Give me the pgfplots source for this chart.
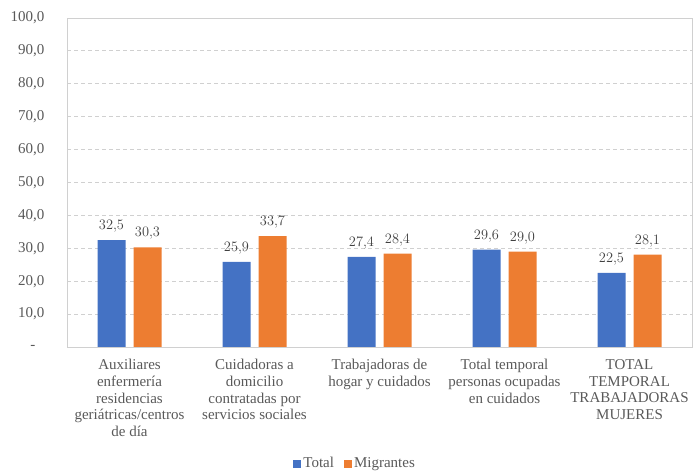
\documentclass[border=0pt]{standalone}
\usepackage{pgfplots}
\pgfplotsset{compat=1.18}
\usepackage{fontspec}
\setmainfont{Liberation Serif}
\definecolor{cblue}{HTML}{4472C4}
\definecolor{corange}{HTML}{ED7D31}
\definecolor{tgray}{HTML}{595959}
\definecolor{lgray}{HTML}{404040}
\definecolor{ggray}{HTML}{D0D0D0}
\begin{document}
\begin{tikzpicture}
\useasboundingbox (0pt,0pt) rectangle (693pt,471pt);
\begin{axis}[
  at={(67pt,124pt)}, anchor=south west,
  scale only axis, width=625pt, height=329pt,
  ymin=0, ymax=100, ytick={0,10,...,100},
  yticklabels={{\makebox[14pt][l]{-}},{10,0},{20,0},{30,0},{40,0},{50,0},{60,0},{70,0},{80,0},{90,0},{100,0}},
  xmin=-0.5, xmax=4.5, xtick={0,1,2,3,4},
  xticklabels={
    {Auxiliares\\enfermería\\residencias\\geriátricas/centros\\de día},
    {Cuidadoras a\\domicilio\\contratadas por\\servicios sociales},
    {Trabajadoras de\\hogar y cuidados},
    {Total temporal\\personas ocupadas\\en cuidados},
    {TOTAL\\TEMPORAL\\TRABAJADORAS\\MUJERES}},
  ybar=8pt, bar width=28pt,
  ymajorgrids, grid style={ggray, line width=0.9pt, dash pattern=on 4pt off 3pt},
  axis line style={ggray, line width=0.9pt},
  major tick length=0pt,
  tick label style={font=\fontsize{15}{16.6}\selectfont, text=tgray},
  xticklabel style={align=center, anchor=north, yshift=-9pt},
  yticklabel style={anchor=east, xshift=-19pt},
  nodes near coords,
  nodes near coords style={font=\fontsize{15}{16.6}\selectfont, text=lgray, yshift=4pt,
    /pgf/number format/.cd, fixed, fixed zerofill, precision=1, use comma},
  legend style={at={(0.461,-0.353)}, anchor=center, draw=none, legend columns=2,
    font=\fontsize{15}{16.6}\selectfont, text=tgray, inner sep=0pt,
    /tikz/every even column/.append style={column sep=8pt}},
  legend image code/.code={\fill[#1] (1pt,-4.5pt) rectangle (9pt,3.5pt);},
]
\addplot[fill=cblue, draw=none] coordinates {(0,32.5) (1,25.9) (2,27.4) (3,29.6) (4,22.5)};
\addplot[fill=corange, draw=none] coordinates {(0,30.3) (1,33.7) (2,28.4) (3,29.0) (4,28.1)};
\legend{Total, Migrantes}
\end{axis}
\end{tikzpicture}
\end{document}
